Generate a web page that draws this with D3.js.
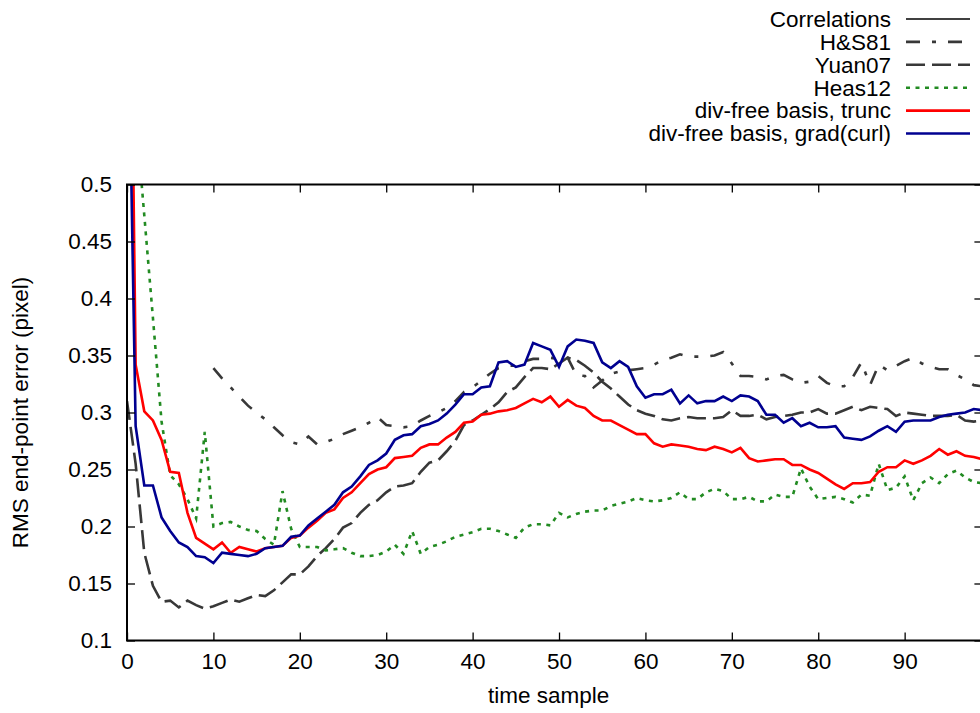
<!DOCTYPE html>
<html>
<head>
<meta charset="utf-8">
<script src="https://cdn.jsdelivr.net/npm/d3@7"></script>
<style>
  html, body { margin: 0; padding: 0; background: #fff; }
  svg { display: block; }
  text { font-family: "Liberation Sans", Arial, Helvetica, sans-serif; fill: #000; }
</style>
</head>
<body>
<svg id="chart" width="980" height="713"></svg>
<script>
// ---------------- DATA ----------------
const xTicks = [0, 10, 20, 30, 40, 50, 60, 70, 80, 90];
const yTicks = [0.1, 0.15, 0.2, 0.25, 0.3, 0.35, 0.4, 0.45, 0.5];
const yTickLabels = ["0.1", "0.15", "0.2", "0.25", "0.3", "0.35", "0.4", "0.45", "0.5"];
const seriesNames = ["Correlations", "H&S81", "Yuan07", "Heas12", "div-free basis, trunc", "div-free basis, grad(curl)"];

// Correlations: no point falls inside the visible range (legend only)
const correlations = [];

// H&S81 starts at time sample 10
const hs81Start = 10;
const hs81 = [0.339,0.330,0.322,0.314,0.306,0.300,0.294,0.287,0.280,0.274,
  0.272,0.279,0.272,0.274,0.277,0.281,0.284,0.287,0.291,0.296,
  0.289,0.288,0.287,0.288,0.293,0.297,0.300,0.304,0.310,0.318,
  0.322,0.328,0.334,0.339,0.341,0.341,0.345,0.347,0.347,0.348,
  0.347,0.348,0.333,0.332,0.322,0.328,0.334,0.336,0.337,0.338,
  0.339,0.342,0.346,0.348,0.351,0.349,0.349,0.349,0.350,0.353,
  0.343,0.332,0.332,0.331,0.329,0.332,0.333,0.329,0.326,0.327,
  0.332,0.326,0.323,0.323,0.331,0.344,0.324,0.342,0.337,0.341,
  0.345,0.348,0.343,0.340,0.338,0.338,0.333,0.329,0.324,0.323];

const yuan07 = [0.310,0.255,0.177,0.148,0.134,0.135,0.129,0.135,0.131,0.128,
  0.130,0.133,0.136,0.134,0.137,0.140,0.139,0.144,0.151,0.158,
  0.158,0.165,0.174,0.181,0.189,0.199,0.203,0.212,0.219,0.223,
  0.230,0.235,0.236,0.238,0.248,0.256,0.258,0.266,0.275,0.289,
  0.293,0.298,0.303,0.309,0.318,0.322,0.331,0.339,0.339,0.338,
  0.343,0.348,0.346,0.341,0.335,0.327,0.321,0.314,0.307,0.302,
  0.299,0.297,0.294,0.293,0.295,0.296,0.295,0.295,0.295,0.296,
  0.302,0.297,0.297,0.298,0.294,0.296,0.297,0.298,0.300,0.300,
  0.303,0.299,0.299,0.302,0.305,0.302,0.305,0.304,0.303,0.297,
  0.300,0.299,0.298,0.297,0.297,0.297,0.298,0.293,0.292,0.293];

const heas12 = [0.75,0.563,0.473,0.383,0.292,0.245,0.237,0.224,0.207,0.283,
  0.200,0.203,0.204,0.200,0.197,0.196,0.189,0.184,0.231,0.198,
  0.182,0.182,0.182,0.179,0.180,0.181,0.177,0.174,0.174,0.175,
  0.178,0.184,0.176,0.196,0.176,0.182,0.184,0.187,0.191,0.193,
  0.195,0.198,0.198,0.196,0.193,0.190,0.199,0.202,0.202,0.201,
  0.212,0.208,0.211,0.213,0.214,0.214,0.218,0.220,0.222,0.225,
  0.223,0.222,0.223,0.225,0.230,0.224,0.224,0.230,0.233,0.231,
  0.224,0.224,0.226,0.222,0.222,0.228,0.226,0.226,0.251,0.235,
  0.224,0.225,0.226,0.224,0.221,0.228,0.227,0.255,0.232,0.234,
  0.244,0.223,0.238,0.243,0.238,0.246,0.249,0.243,0.239,0.238];

const trunc = [0.97,0.342,0.301,0.293,0.276,0.248,0.247,0.212,0.190,0.185,
  0.180,0.186,0.177,0.182,0.180,0.178,0.181,0.182,0.183,0.190,
  0.192,0.199,0.205,0.212,0.215,0.225,0.230,0.238,0.246,0.250,
  0.252,0.260,0.261,0.262,0.269,0.272,0.272,0.278,0.283,0.291,
  0.292,0.298,0.299,0.301,0.302,0.304,0.308,0.312,0.309,0.314,
  0.305,0.311,0.306,0.304,0.297,0.293,0.293,0.289,0.285,0.281,
  0.281,0.273,0.270,0.272,0.271,0.270,0.268,0.267,0.270,0.268,
  0.265,0.269,0.260,0.257,0.258,0.259,0.259,0.254,0.254,0.250,
  0.247,0.242,0.237,0.233,0.238,0.238,0.239,0.248,0.252,0.252,
  0.258,0.255,0.258,0.262,0.268,0.263,0.266,0.262,0.261,0.259];

const gradCurl = [0.72,0.288,0.236,0.236,0.208,0.196,0.186,0.182,0.174,0.173,
  0.168,0.177,0.176,0.175,0.174,0.176,0.181,0.182,0.183,0.191,
  0.192,0.201,0.207,0.213,0.219,0.230,0.235,0.244,0.254,0.258,
  0.264,0.276,0.280,0.281,0.288,0.290,0.293,0.299,0.307,0.316,
  0.316,0.322,0.323,0.344,0.345,0.340,0.342,0.361,0.358,0.355,
  0.340,0.358,0.364,0.363,0.361,0.344,0.339,0.345,0.340,0.323,
  0.313,0.316,0.316,0.320,0.308,0.315,0.308,0.310,0.310,0.314,
  0.310,0.315,0.314,0.310,0.298,0.298,0.291,0.295,0.288,0.291,
  0.287,0.287,0.288,0.278,0.277,0.276,0.279,0.284,0.288,0.283,
  0.292,0.293,0.293,0.293,0.296,0.298,0.299,0.300,0.303,0.302];

// ---------------- CHART ----------------
const FS = "22.5px";
const svg = d3.select("#chart");
const M = { left: 127, top: 184.5, right: 982.4, bottom: 640.5 };

const x = d3.scaleLinear().domain([0, 99]).range([M.left, M.right]);
const y = d3.scaleLinear().domain([0.1, 0.5]).range([M.bottom, M.top]);

svg.append("defs").append("clipPath").attr("id", "plotclip")
  .append("rect")
  .attr("x", M.left).attr("y", M.top)
  .attr("width", M.right - M.left).attr("height", M.bottom - M.top);

const toPts = (arr, start) => arr.map((v, i) => [start + i, v]);

const styles = [
  { data: toPts(correlations, 0), color: "#000000", width: 1.5, dash: null },
  { data: toPts(hs81, hs81Start), color: "#383838", width: 2.6, dash: "14,12,4,12" },
  { data: toPts(yuan07, 0), color: "#383838", width: 2.6, dash: "19,7" },
  { data: toPts(heas12, 0), color: "#228b22", width: 2.6, dash: "4,5.5" },
  { data: toPts(trunc, 0), color: "#ff0000", width: 2.6, dash: null },
  { data: toPts(gradCurl, 0), color: "#000090", width: 2.6, dash: null }
];

const line = d3.line().x(d => x(d[0])).y(d => y(d[1]));

const plot = svg.append("g").attr("clip-path", "url(#plotclip)");
styles.forEach(s => {
  if (!s.data.length) return;
  plot.append("path")
    .datum(s.data)
    .attr("d", line)
    .attr("fill", "none")
    .attr("stroke", s.color)
    .attr("stroke-width", s.width)
    .attr("stroke-linejoin", "miter")
    .attr("stroke-dasharray", s.dash);
});

// Axes with mirrored ticks (gnuplot style)
const tickLen = 8;
const axisG = svg.append("g");
const xAxisB = d3.axisBottom(x).tickValues(xTicks).tickSize(-tickLen).tickPadding(13).tickFormat(d3.format("d"));
const xAxisT = d3.axisTop(x).tickValues(xTicks).tickSize(-tickLen).tickFormat("");
const yAxisL = d3.axisLeft(y).tickValues(yTicks).tickSize(-tickLen).tickPadding(15)
  .tickFormat((d, i) => yTickLabels[i]);
const yAxisR = d3.axisRight(y).tickValues(yTicks).tickSize(-tickLen).tickFormat("");

function styleAxis(g) {
  g.select(".domain").remove();
  g.selectAll(".tick line").attr("stroke", "#000").attr("stroke-width", 1.3);
  g.selectAll(".tick text").style("font-size", FS).attr("fill", "#000")
    .style("font-family", '"Liberation Sans", Arial, sans-serif');
}
axisG.append("g").attr("transform", `translate(0,${M.bottom})`).call(xAxisB).call(styleAxis);
axisG.append("g").attr("transform", `translate(0,${M.top})`).call(xAxisT).call(styleAxis);
axisG.append("g").attr("transform", `translate(${M.left},0)`).call(yAxisL).call(styleAxis);
axisG.append("g").attr("transform", `translate(${M.right},0)`).call(yAxisR).call(styleAxis);

// Border
svg.append("rect")
  .attr("x", M.left).attr("y", M.top)
  .attr("width", M.right - M.left).attr("height", M.bottom - M.top)
  .attr("fill", "none").attr("stroke", "#000").attr("stroke-width", 2);

// Axis titles
svg.append("text")
  .attr("x", (M.left + M.right) / 2 - 6).attr("y", 703)
  .attr("text-anchor", "middle").style("font-size", FS)
  .text("time sample");
svg.append("text")
  .attr("transform", `translate(28,${(M.top + M.bottom) / 2}) rotate(-90)`)
  .attr("text-anchor", "middle").style("font-size", FS)
  .text("RMS end-point error (pixel)");

// Legend
const legend = svg.append("g");
seriesNames.forEach((name, i) => {
  const ly = 19 + i * 22.9;
  const s = styles[i];
  legend.append("text")
    .attr("x", 891).attr("y", ly).attr("dy", "0.35em")
    .attr("text-anchor", "end").style("font-size", FS)
    .text(name);
  legend.append("line")
    .attr("x1", 906).attr("x2", 970).attr("y1", ly).attr("y2", ly)
    .attr("stroke", s.color).attr("stroke-width", i === 0 ? 1.5 : s.width)
    .attr("stroke-dasharray", s.dash);
});
</script>
</body>
</html>
